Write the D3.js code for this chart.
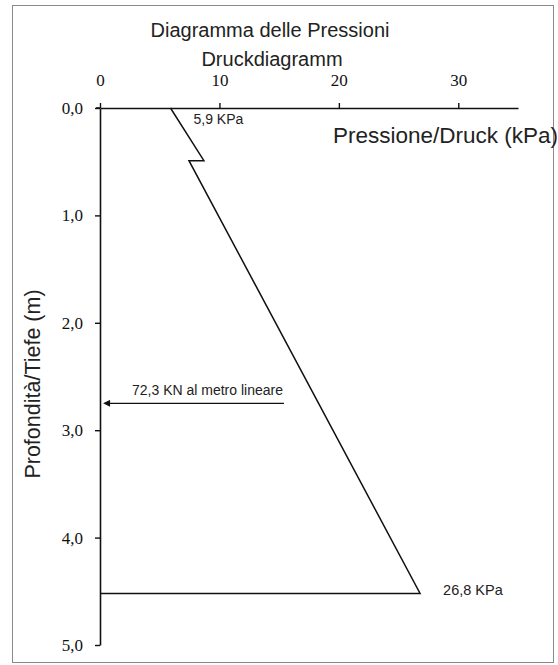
<!DOCTYPE html>
<html>
<head>
<meta charset="utf-8">
<script src="https://cdn.jsdelivr.net/npm/d3@7"></script>
<style>
  body { margin: 0; background: #fff; }
  svg { display: block; }
</style>
</head>
<body>
<div id="chart"></div>
<script>
// pressure diagram (Italian / German labels)
const width = 558, height = 665;

const pressureTicks = [0, 10, 20, 30];
const depthTicks = [0, 1, 2, 3, 4, 5];

// pressure profile, top to bottom
const profileDepth = [0, 0.49, 0.49, 4.52, 4.52];
const profilePressure = [5.9, 8.7, 7.45, 26.8, 0];

// resultant force arrow
const arrowDepth = 2.75;
const arrowFrom = [15.4, 0.2];
const arrowLabel = "72,3 KN al metro lineare";

const topLabel = "5,9 KPa";
const bottomLabel = "26,8 KPa";

const SANS = "'Liberation Sans', Arial, sans-serif";
const SERIF = "'Liberation Serif', 'Times New Roman', Times, serif";

let svg = d3.select("#chart")
    .append("svg")
    .attr("width", width)
    .attr("height", height);

// frame
svg.append("rect")
    .attr("x", 12.5).attr("y", 5.5)
    .attr("width", 541).attr("height", 657)
    .attr("fill", "none")
    .attr("stroke", "#8a8a8a")
    .attr("stroke-width", 1);

let x = d3.scaleLinear().domain([0, 35]).range([100, 518]);
let y = d3.scaleLinear().domain([0, 5]).range([108, 645]);

// title
svg.append("text")
    .attr("x", 270).attr("y", 37)
    .style("text-anchor", "middle")
    .style("font-family", SANS)
    .style("font-size", "20px")
    .attr("fill", "#222")
    .text("Diagramma delle Pressioni");
svg.append("text")
    .attr("x", 272).attr("y", 66)
    .style("text-anchor", "middle")
    .style("font-family", SANS)
    .style("font-size", "20px")
    .attr("fill", "#222")
    .text("Druckdiagramm");

// top axis (pressure)
let xAxis = svg.append("g")
    .attr("transform", `translate(0, ${y(0)})`)
    .call(d3.axisTop(x).tickValues(pressureTicks).tickSize(5).tickSizeOuter(0).tickPadding(17).tickFormat(d3.format("d")));

// left axis (depth)
let yAxis = svg.append("g")
    .attr("transform", `translate(${x(0)}, 0)`)
    .call(d3.axisLeft(y).tickValues(depthTicks).tickSize(5).tickSizeOuter(0).tickPadding(12)
        .tickFormat(d => d.toFixed(1).replace(".", ",")));

[xAxis, yAxis].forEach(a => {
    a.attr("font-family", SERIF).attr("font-size", 17);
    a.select(".domain").attr("stroke", "#111").attr("stroke-width", 1.6);
    a.selectAll(".tick line").attr("stroke", "#111").attr("stroke-width", 1.4);
    a.selectAll(".tick text")
        .attr("fill", "#111")
        .style("font-family", SERIF)
        .style("font-size", "17px");
});
// small overshoot of the horizontal axis left of the origin
svg.append("line")
    .attr("x1", x(0) - 4).attr("x2", x(0))
    .attr("y1", y(0)).attr("y2", y(0))
    .attr("stroke", "#111").attr("stroke-width", 1.6);

// axis titles
svg.append("text")
    .attr("x", 333).attr("y", 143)
    .style("font-family", SANS)
    .style("font-size", "22.5px")
    .attr("fill", "#222")
    .text("Pressione/Druck (kPa)");

svg.append("text")
    .attr("transform", `translate(40, ${384}) rotate(-90)`)
    .style("text-anchor", "middle")
    .style("font-family", SANS)
    .style("font-size", "21.5px")
    .attr("fill", "#222")
    .text("Profondità/Tiefe (m)");

// pressure profile line
let profile = profileDepth.map((d, i) => ({ depth: d, p: profilePressure[i] }));
let line = d3.line()
    .x(d => x(d.p))
    .y(d => y(d.depth));
svg.append("path")
    .datum(profile)
    .attr("d", line)
    .attr("fill", "none")
    .attr("stroke", "#111")
    .attr("stroke-width", 1.5);

// value labels
svg.append("text")
    .attr("x", x(profilePressure[0]) + 23).attr("y", 124)
    .style("font-family", SANS)
    .style("font-size", "14px")
    .attr("fill", "#222")
    .text(topLabel);
svg.append("text")
    .attr("x", x(profilePressure[3]) + 23).attr("y", y(profileDepth[3]) + 2)
    .style("font-family", SANS)
    .style("font-size", "14.5px")
    .attr("fill", "#222")
    .text(bottomLabel);

// arrow
svg.append("defs").append("marker")
    .attr("id", "head")
    .attr("viewBox", "0 0 10 10")
    .attr("refX", 1).attr("refY", 5)
    .attr("markerWidth", 9).attr("markerHeight", 7)
    .attr("markerUnits", "userSpaceOnUse")
    .attr("orient", "auto-start-reverse")
    .append("path")
    .attr("d", "M0,0 L10,5 L0,10 z")
    .attr("fill", "#111");

svg.append("line")
    .attr("x1", x(arrowFrom[0])).attr("x2", x(arrowFrom[1]) + 7)
    .attr("y1", y(arrowDepth)).attr("y2", y(arrowDepth))
    .attr("stroke", "#111")
    .attr("stroke-width", 1.3)
    .attr("marker-end", "url(#head)");

svg.append("text")
    .attr("x", 132).attr("y", y(arrowDepth) - 8)
    .style("font-family", SANS)
    .style("font-size", "14px")
    .attr("fill", "#222")
    .text(arrowLabel);
</script>
</body>
</html>
